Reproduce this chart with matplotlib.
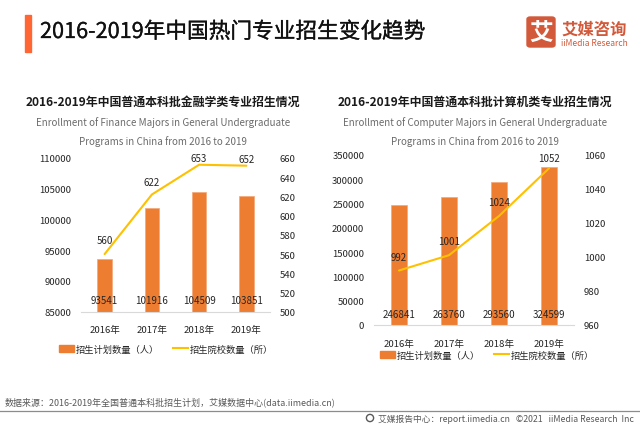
import matplotlib

matplotlib.use("Agg")
import matplotlib.pyplot as plt
from matplotlib.patches import Circle, FancyBboxPatch, Rectangle
from matplotlib.lines import Line2D
import matplotlib.patheffects as pe

plt.rcParams["font.family"] = ["Noto Sans CJK SC", "DejaVu Sans"]

W, H = 640, 427
BAR = "#ED7D31"
LINE = "#FFC000"
TXT = "#262626"
SUB = "#6b6b6b"
LOGO = "#D2593A"

years = ["2016年", "2017年", "2018年", "2019年"]
finance_plan = [93541, 101916, 104509, 103851]
finance_schools = [560, 622, 653, 652]
computer_plan = [246841, 263760, 293560, 324599]
computer_schools = [992, 1001, 1024, 1052]

finance_ticks = [85000, 90000, 95000, 100000, 105000, 110000]
finance_ticks2 = [500, 520, 540, 560, 580, 600, 620, 640, 660]
computer_ticks = [0, 50000, 100000, 150000, 200000, 250000, 300000, 350000]
computer_ticks2 = [960, 980, 1000, 1020, 1040, 1060]

fig = plt.figure(figsize=(W / 100, H / 100), dpi=100, facecolor="white")


def px_text(x, y, s, **kw):
    kw.setdefault("ha", "center")
    kw.setdefault("va", "center")
    kw.setdefault("color", TXT)
    return fig.text(x / W, 1 - y / H, s, **kw)


def px_axes(left, top, right, bottom):
    return fig.add_axes([left / W, 1 - bottom / H, (right - left) / W, (bottom - top) / H])


def combo(box, plan, schools, ticks, ticks2, label_px, line_off, xpad, legend_xy):
    ax = px_axes(*box)
    xs = list(range(len(years)))
    ax.bar(xs, plan, 0.31, color=BAR, edgecolor="#F4A678", linewidth=0.5, zorder=2)
    ax.set_xlim(-0.5, len(years) - 0.5)
    ax.set_ylim(ticks[0], ticks[-1])
    ax.set_yticks(ticks)
    ax.set_xticks(xs)
    ax.set_xticklabels(years)
    ax.tick_params(axis="both", length=0, labelsize=6.9, labelcolor=TXT)
    ax.tick_params(axis="y", pad=7)
    ax.tick_params(axis="x", pad=xpad)
    for s in ["top", "left", "right"]:
        ax.spines[s].set_visible(False)
    ax.spines["bottom"].set_color("#D9D9D9")
    ax.spines["bottom"].set_linewidth(0.8)

    ax2 = ax.twinx()
    ax2.plot(xs, schools, color=LINE, linewidth=1.5, solid_capstyle="round", zorder=3)
    ax2.set_ylim(ticks2[0], ticks2[-1])
    ax2.set_yticks(ticks2)
    ax2.tick_params(axis="y", length=0, labelsize=6.9, labelcolor=TXT, pad=7)
    for s in ax2.spines.values():
        s.set_visible(False)

    for x, v, s2, off in zip(xs, plan, schools, line_off):
        ax2.annotate(str(s2), (x, s2), xytext=(0, off * 0.72), textcoords="offset points",
                     ha="center", va="center", fontsize=7, color=TXT, zorder=5)
        ax2.annotate(str(v), (x, ticks2[0]), xytext=(0, label_px * 0.72), textcoords="offset points",
                     ha="center", va="center", fontsize=7, color=TXT, zorder=5)

    handles = [Rectangle((0, 0), 1, 1, color=BAR), Line2D([0], [0], color=LINE, linewidth=1.5)]
    fig.legend(handles, ["招生计划数量（人）", "招生院校数量（所）"], loc="center",
               bbox_to_anchor=(legend_xy[0] / W, 1 - legend_xy[1] / H), ncol=2, frameon=False,
               fontsize=6.7, labelcolor=TXT, handlelength=1.6, handletextpad=0.2, columnspacing=1.5,
               handleheight=0.8, borderpad=0)


# header
fig.add_artist(Rectangle((25 / W, 1 - 53 / H), 6 / W, 37 / H, transform=fig.transFigure, color="#FF6633"))
title = px_text(40, 33, "2016-2019年中国热门专业招生变化趋势", ha="left", fontsize=15.6, color="#111111")
title.set_path_effects([pe.withStroke(linewidth=0.2, foreground="#111111")])

# logo
fig.add_artist(FancyBboxPatch((527 / W, 1 - 48 / H), 28 / W, 30 / H, transform=fig.transFigure,
                              boxstyle="round,pad=0,rounding_size=0.005", color=LOGO))
px_text(541, 32.5, "艾", fontsize=17, color="white", fontweight="bold")
px_text(594, 30, "艾媒咨询", fontsize=11.8, color=LOGO, fontweight="bold")
px_text(594.5, 43, "iiMedia Research", fontsize=6.1, color=LOGO)

# panel titles
px_text(163, 102, "2016-2019年中国普通本科批金融学类专业招生情况", fontsize=8.6, fontweight="bold", color="#1a1a1a")
px_text(163, 123, "Enrollment of Finance Majors in General Undergraduate", fontsize=7.05, color=SUB)
px_text(163, 142, "Programs in China from 2016 to 2019", fontsize=7.05, color=SUB)
px_text(475, 102, "2016-2019年中国普通本科批计算机类专业招生情况", fontsize=8.6, fontweight="bold", color="#1a1a1a")
px_text(475, 123, "Enrollment of Computer Majors in General Undergraduate", fontsize=7.05, color=SUB)
px_text(475, 142, "Programs in China from 2016 to 2019", fontsize=7.05, color=SUB)

combo((81, 159, 270, 312.7), finance_plan, finance_schools, finance_ticks, finance_ticks2,
      11.5, [14, 13, 7, 7], 9.5, (166, 350))
combo((374, 155.7, 574, 326), computer_plan, computer_schools, computer_ticks, computer_ticks2,
      11, [14, 14, 14, 10], 10, (487, 356))

# footer
px_text(5, 402, "数据来源：2016-2019年全国普通本科批招生计划，艾媒数据中心(data.iimedia.cn)", ha="left",
        fontsize=6.45, color="#595959")
fig.add_artist(Line2D([0, 1], [1 - 412 / H, 1 - 412 / H], transform=fig.transFigure, color="#8c8c8c", linewidth=0.9))
fig.add_artist(Circle((370, H - 419), 3.6, transform=None, fill=False, edgecolor="#595959", linewidth=1.0))
px_text(634, 419, "艾媒报告中心：report.iimedia.cn   ©2021   iiMedia Research  Inc", ha="right",
        fontsize=6.3, color="#595959")

fig.savefig("out.png", dpi=100)
